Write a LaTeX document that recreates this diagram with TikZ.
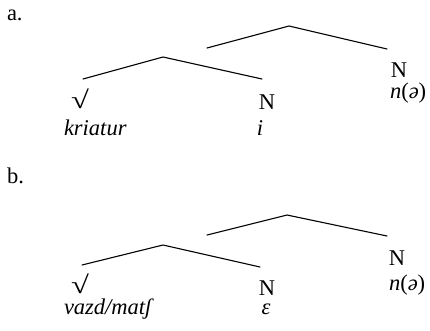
\documentclass[tikz,border=0pt]{standalone}
\usepackage{fontspec}
\usepackage{graphicx}
\setmainfont{Liberation Serif}
\newcommand{\rootsym}{\scalebox{1.45}[1.1]{√}}
\begin{document}
\begin{tikzpicture}[x=1pt,y=-1pt,
  lbl/.style={inner sep=0pt,outer sep=0pt,font=\fontsize{22.5}{26}\selectfont},
  branch/.style={line width=1.1pt,line cap=round,line join=round}]
\useasboundingbox (0,0) rectangle (430,330);
% ---- panel a
\node[lbl,anchor=base west] (la) at (7,20) {a.};
\coordinate (a1l) at (207,48); \coordinate (a1t) at (289,26); \coordinate (a1r) at (387,49);
\coordinate (a2l) at (83,79); \coordinate (a2t) at (163,57); \coordinate (a2r) at (262,79);
\draw[branch] (a1l) -- (a1t) -- (a1r);
\draw[branch] (a2l) -- (a2t) -- (a2r);
\node[lbl,anchor=base] (arootsym) at (80,108) {\rootsym};
\node[lbl,anchor=base] (aN1) at (267,109) {N};
\node[lbl,anchor=base west] (aroot) at (64,135) {\itshape kriatur};
\node[lbl,anchor=base] (ai) at (260,135) {\itshape i};
\node[lbl,anchor=base] (aN2) at (399,77) {N};
\node[lbl,anchor=base west] (an) at (390,98) {\textit{n}(\textit{ə})};
% ---- panel b
\node[lbl,anchor=base west] (lb) at (7,183) {b.};
\coordinate (b1l) at (207,235); \coordinate (b1t) at (287,215); \coordinate (b1r) at (387,236);
\coordinate (b2l) at (82,265); \coordinate (b2t) at (163,245); \coordinate (b2r) at (260,267);
\draw[branch] (b1l) -- (b1t) -- (b1r);
\draw[branch] (b2l) -- (b2t) -- (b2r);
\node[lbl,anchor=base] (brootsym) at (80,293) {\rootsym};
\node[lbl,anchor=base] (bN1) at (267,295) {N};
\node[lbl,anchor=base west] (broot) at (64,314) {\itshape vazd/matʃ};
\node[lbl,anchor=base] (beps) at (266,314) {\itshape ε};
\node[lbl,anchor=base] (bN2) at (397,265) {N};
\node[lbl,anchor=base west] (bn) at (389,290) {\textit{n}(\textit{ə})};
\end{tikzpicture}
\end{document}
